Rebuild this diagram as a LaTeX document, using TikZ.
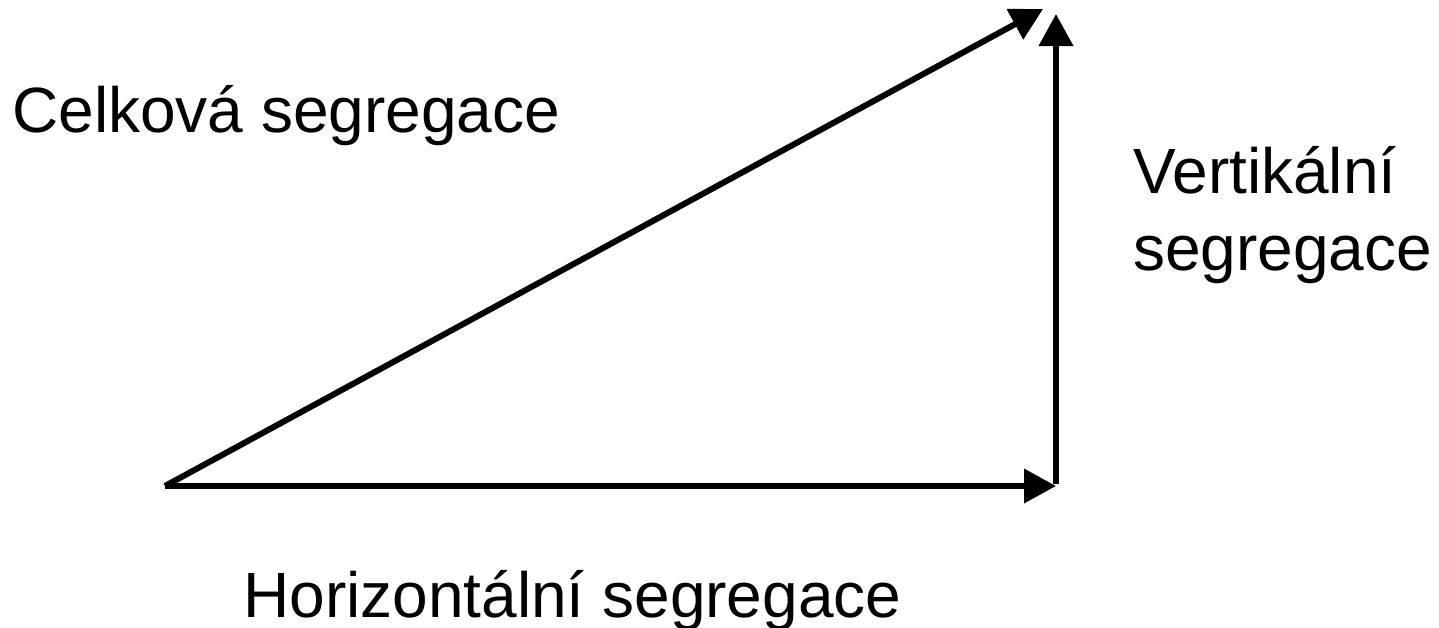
\documentclass[tikz,border=0pt]{standalone}
\usepackage{fontspec}
\setmainfont{Liberation Sans}
\usetikzlibrary{arrows.meta}
\begin{document}
\begin{tikzpicture}[x=0.75pt,y=-0.75pt,
  vec/.style={line width=4.5pt,-{Triangle[length=24pt,width=25pt]}},
  lbl/.style={inner sep=0pt,anchor=base west,font=\fontsize{48}{57.5}\selectfont,align=left}]
\useasboundingbox (0,0) rectangle (1439,628);
\coordinate (O) at (165,486);
\coordinate (H) at (1056,486);
\coordinate (V0) at (1056,484);
\coordinate (V) at (1056,14);
\coordinate (T) at (1043,9);
\draw[vec] (O) -- (H);
\draw[vec] (V0) -- (V);
\draw[vec] (O) -- (T);
\node[lbl] (celk) at (12,132) {Celková segregace};
\node[lbl] (vert) at (1133,270) {Vertikální\\segregace};
\node[lbl] (hor) at (243,617) {Horizontální segregace};
\end{tikzpicture}
\end{document}
